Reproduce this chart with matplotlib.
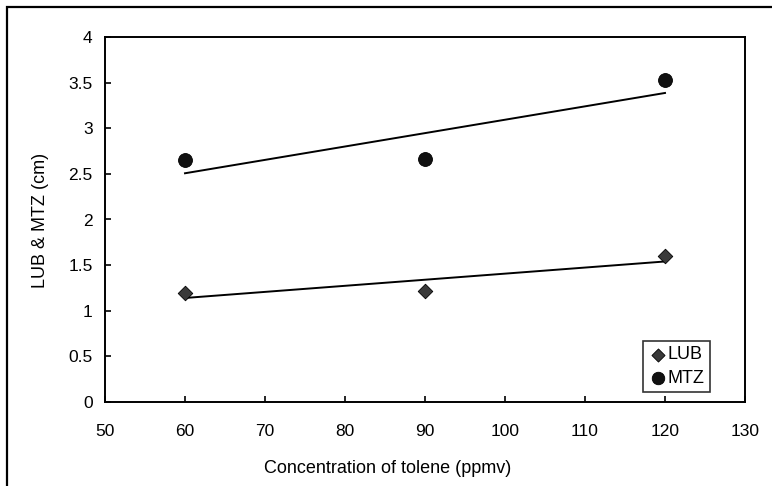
import matplotlib
matplotlib.use("Agg")
import matplotlib.pyplot as plt
import numpy as np
from matplotlib.patches import Rectangle

plt.rcParams['font.family'] = ['Liberation Sans', 'DejaVu Sans']

conc = [60, 90, 120]
lub = [1.20, 1.22, 1.60]
mtz = [2.65, 2.66, 3.53]
xticks = [50, 60, 70, 80, 90, 100, 110, 120, 130]
yticks = [0, 0.5, 1, 1.5, 2, 2.5, 3, 3.5, 4]

W, H = 772, 486
fig = plt.figure(figsize=(W / 100, H / 100), dpi=100)
ax = fig.add_axes([105 / W, 1 - 402 / H, (745 - 105) / W, (402 - 37) / H])

# outer border
fig.patches.append(Rectangle((7 / W, -0.1), 1.2, 1 - 7 / H + 0.1,
                             transform=fig.transFigure, fill=False,
                             edgecolor='black', lw=1.6))

x = np.array(conc, dtype=float)
for ys in (lub, mtz):
    p = np.polyfit(x, ys, 1)
    xs = np.array([60, 120], dtype=float)
    ax.plot(xs, np.polyval(p, xs), color='black', lw=1.4, zorder=2)

ax.scatter(conc, lub, marker='D', s=55, color='#3a3a3a', edgecolor='black',
           linewidths=0.6, label='LUB', zorder=3)
ax.scatter(conc, mtz, marker='o', s=100, color='#111111', edgecolor='black',
           linewidths=0.6, label='MTZ', zorder=3)

ax.set_xlim(50, 130)
ax.set_ylim(0, 4)
ax.set_xticks(xticks)
ax.set_yticks(yticks)
ax.set_xticklabels([str(t) for t in xticks])
ax.set_yticklabels([f"{t:g}" for t in yticks])
ax.tick_params(direction='in', length=4, width=1.2, labelsize=12.5, pad=9)
ax.tick_params(axis='x', pad=16)
for s in ax.spines.values():
    s.set_linewidth(1.4)

ax.set_xlabel('Concentration of tolene (ppmv)', fontsize=13)
ax.xaxis.set_label_coords((388 - 105) / 640, (402 - 468) / 365)
ax.xaxis.label.set_va('center')
ax.set_ylabel('LUB & MTZ (cm)', fontsize=13)
ax.yaxis.set_label_coords((40 - 105) / 640, (402 - 220) / 365)
ax.yaxis.label.set_va('center')

leg = ax.legend(loc='lower right', bbox_to_anchor=((710 - 105) / 640, (402 - 392) / 365),
                fontsize=13, frameon=True, fancybox=False, handletextpad=0.05,
                handlelength=1.0, borderpad=0.3, labelspacing=0.35, borderaxespad=0,
                markerscale=0.9)
leg.get_frame().set_edgecolor('black')
leg.get_frame().set_linewidth(1.2)

fig.savefig('out.png', dpi=100)
